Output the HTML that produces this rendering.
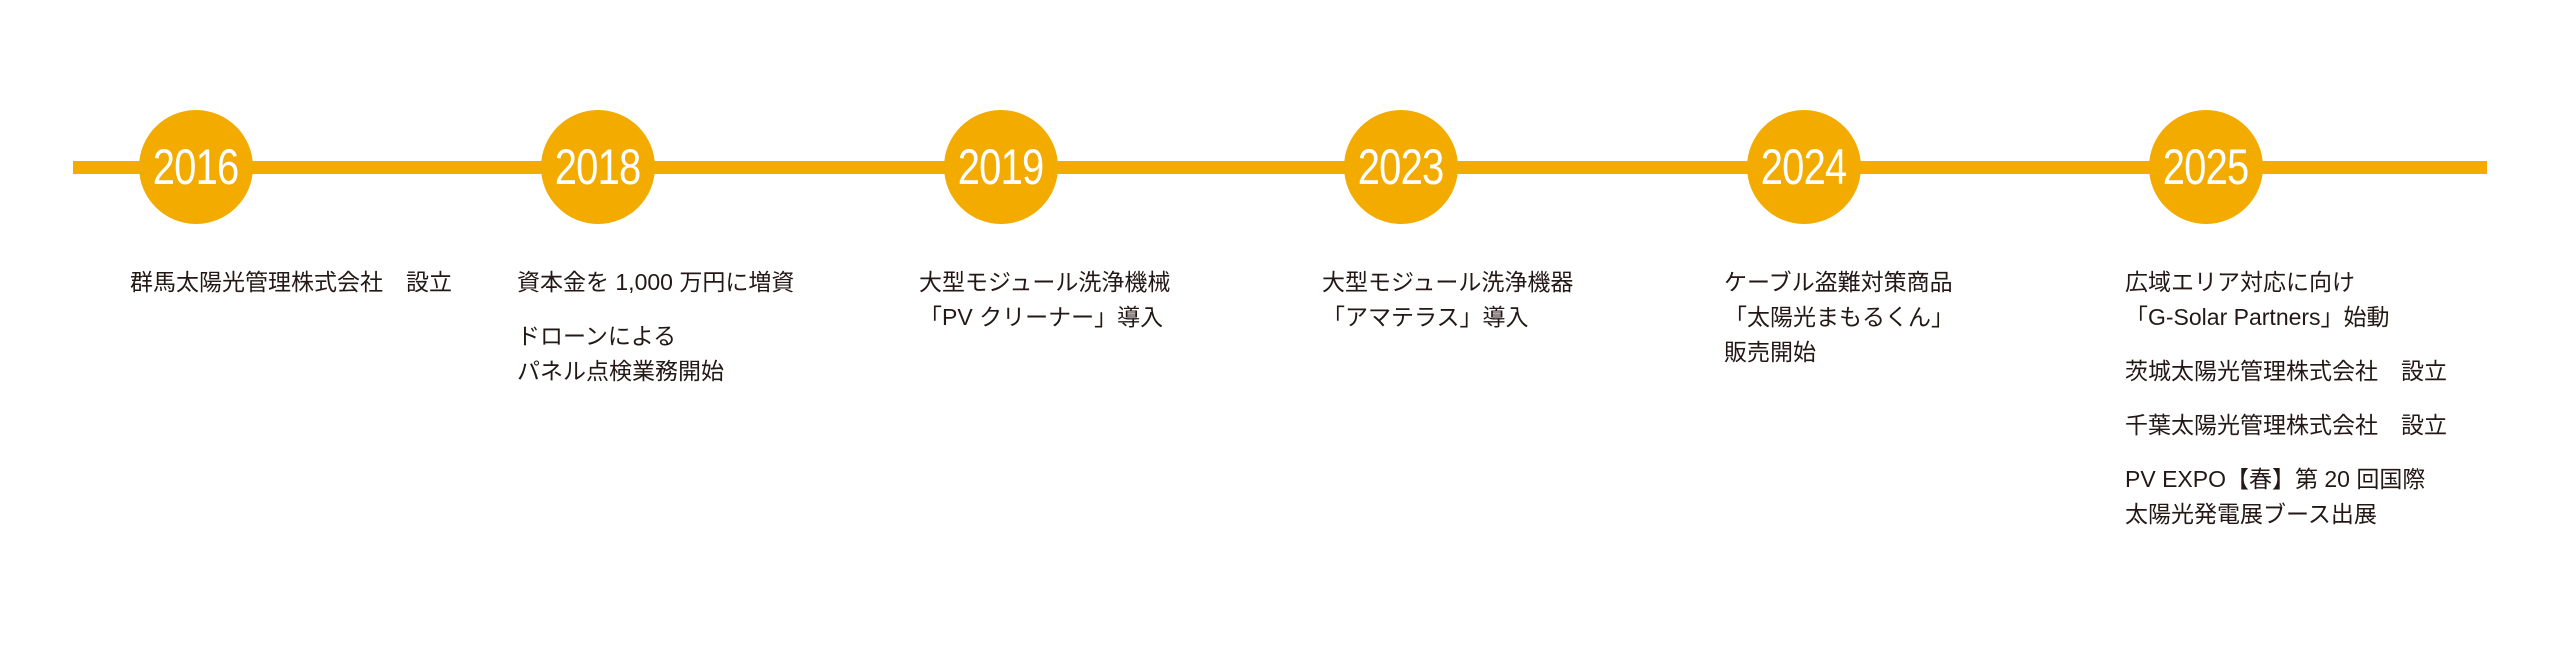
<!DOCTYPE html>
<html><head><meta charset="utf-8"><style>
html,body{margin:0;padding:0;background:#fff;}
body{width:2560px;height:654px;position:relative;overflow:hidden;font-family:"Liberation Sans","Noto Sans CJK JP",sans-serif;}
.line{position:absolute;left:73px;top:161px;width:2414px;height:13px;background:#f4ab00;}
.c{position:absolute;top:110px;width:114px;height:114px;border-radius:50%;background:#f4ab00;color:#fff;font-family:"Liberation Sans",sans-serif;font-size:50px;line-height:114px;text-align:center;}
.c span{display:inline-block;transform:scaleX(0.8);letter-spacing:-1px;}
.t{position:absolute;top:265px;color:#231815;font-size:23px;line-height:35px;white-space:nowrap;}
.t p{margin:0 0 19px 0;}
</style></head><body>
<div class="line"></div>
<div class="c" style="left:139px"><span>2016</span></div>
<div class="c" style="left:541px"><span>2018</span></div>
<div class="c" style="left:944px"><span>2019</span></div>
<div class="c" style="left:1344px"><span>2023</span></div>
<div class="c" style="left:1747px"><span>2024</span></div>
<div class="c" style="left:2149px"><span>2025</span></div>

<div class="t" style="left:130px"><p>群馬太陽光管理株式会社　設立</p></div>
<div class="t" style="left:517px"><p>資本金を 1,000 万円に増資</p><p>ドローンによる<br>パネル点検業務開始</p></div>
<div class="t" style="left:919px"><p>大型モジュール洗浄機械<br>「PV クリーナー」導入</p></div>
<div class="t" style="left:1322px"><p>大型モジュール洗浄機器<br>「アマテラス」導入</p></div>
<div class="t" style="left:1724px"><p>ケーブル盗難対策商品<br>「太陽光まもるくん」<br>販売開始</p></div>
<div class="t" style="left:2125px"><p>広域エリア対応に向け<br>「G-Solar Partners」始動</p><p>茨城太陽光管理株式会社　設立</p><p>千葉太陽光管理株式会社　設立</p><p>PV EXPO【春】第 20 回国際<br>太陽光発電展ブース出展</p></div>
</body></html>
